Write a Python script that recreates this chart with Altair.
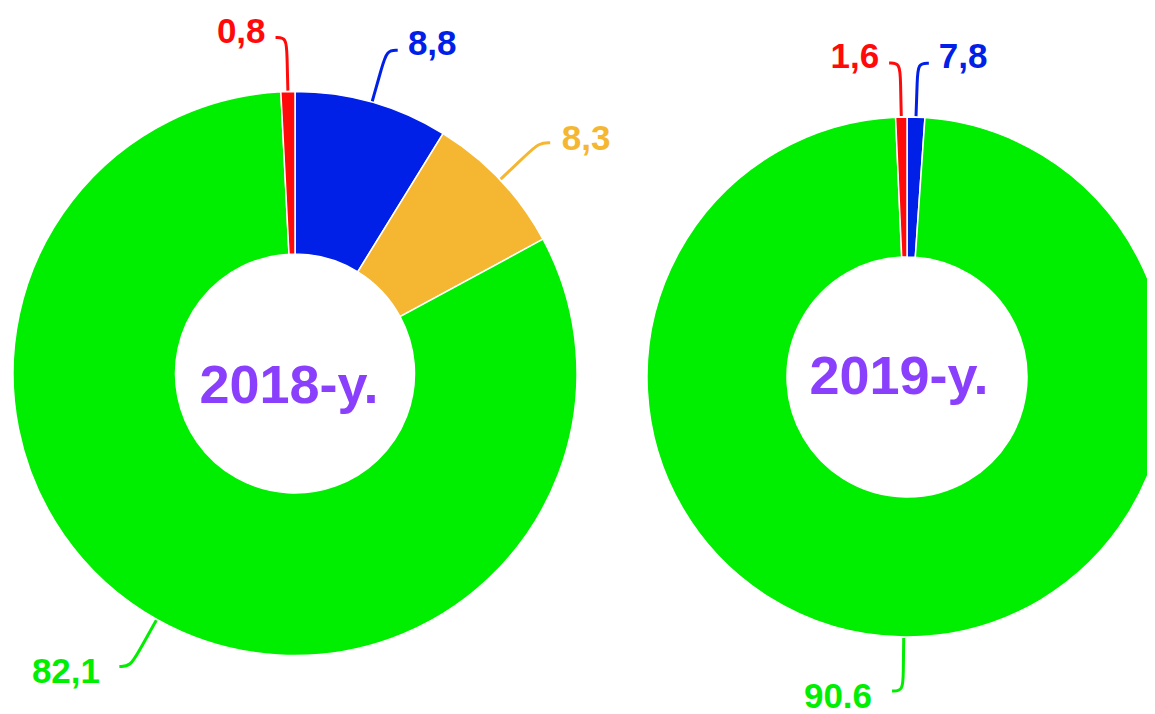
import altair as alt
import pandas as pd

# ---- data ----
years = ["2018-y.", "2019-y."]
categories = ["blue", "yellow", "green", "red"]          # clockwise from 12 o'clock
# slice sizes as drawn
share_2018 = [8.8, 8.3, 82.1, 0.8]
label_2018 = ["8,8", "8,3", "82,1", "0,8"]
cats_2019 = ["blue", "green", "red"]
share_2019 = [1.1, 98.2, 0.7]          # drawn sizes (picture)
label_2019 = ["7,8", "90.6", "1,6"]    # printed labels

slice_colors = ["#0020e8", "#f5b731", "#00ee00", "#ff0a0a"]
label_colors = ["#0a30ff", "#f9c23a", "#00ee2c", "#ff0000"]

rows = []
for i, (c, v, l) in enumerate(zip(categories, share_2018, label_2018)):
    rows.append({"year": years[0], "cat": c, "order": i, "value": v, "label": l})
for i, (c, v, l) in enumerate(zip(cats_2019, share_2019, label_2019)):
    rows.append({"year": years[1], "cat": c, "order": i, "value": v, "label": l})
df = pd.DataFrame(rows)
lead = pd.concat([df.assign(k=k) for k in range(4)], ignore_index=True)

W, H = 1139, 706
# layout (pixels within the chart)
C18 = dict(cx=287, cy=365.5, ro=282, ri=119.5)
C19 = dict(cx=899, cy=369, ro=260, ri=120)


def geo(ch, groupby):
    return (
        ch.transform_window(cum="sum(value)", groupby=groupby,
                            sort=[alt.SortField("order")], frame=[None, 0])
        .transform_joinaggregate(total="sum(value)", groupby=groupby)
        .transform_calculate(mid="2*PI*(datum.cum - datum.value/2)/datum.total")
        .transform_calculate(
            cx=f"datum.year=='{years[0]}' ? {C18['cx']} : {C19['cx']}",
            cy=f"datum.year=='{years[0]}' ? {C18['cy']} : {C19['cy']}",
            ro=f"datum.year=='{years[0]}' ? {C18['ro']} : {C19['ro']}",
            dir="sin(datum.mid) >= 0 ? 1 : -1",
        )
    )


xs = alt.Scale(domain=[0, W], range=[0, W], nice=False, zero=False)
ys = alt.Scale(domain=[0, H], range=[0, H], nice=False, zero=False)

layers = []
for yr, C, cats in [(years[0], C18, categories), (years[1], C19, cats_2019)]:
    arc = alt.Chart(df).transform_filter(alt.datum.year == yr).mark_arc(
        radius=C["ro"], radius2=C["ri"], stroke="white", strokeWidth=1.5
    ).encode(
        theta=alt.Theta("value:Q", stack=True),
        order=alt.Order("order:Q"),
        color=alt.Color("cat:N", scale=alt.Scale(domain=categories, range=slice_colors), legend=None),
        x=alt.value(C["cx"]),
        y=alt.value(C["cy"]),
    )
    layers.append(arc)

titles = pd.DataFrame({"year": years, "tx": [C18["cx"] - 6, C19["cx"] - 8],
                       "ty": [C18["cy"] + 29, C19["cy"] + 17]})
title_layer = alt.Chart(titles).mark_text(
    font="Liberation Sans", fontWeight="bold", fontSize=54, color="#8a3ffc",
    align="center", baseline="alphabetic"
).encode(
    x=alt.X("tx:Q", scale=xs, axis=None),
    y=alt.Y("ty:Q", scale=ys, axis=None),
    text="year:N",
)

lines = geo(alt.Chart(lead), ["year", "k"]).transform_calculate(
    rr="datum.ro + (datum.k==0 ? 1 : datum.k==1 ? 36 : 54)"
).transform_calculate(
    px="datum.cx + datum.rr*sin(datum.mid) + (datum.k==3 ? datum.dir*11 : 0)",
    py="datum.cy - datum.rr*cos(datum.mid)",
).mark_line(interpolate="basis", strokeWidth=3).encode(
    x=alt.X("px:Q", scale=xs, axis=None),
    y=alt.Y("py:Q", scale=ys, axis=None),
    color=alt.Color("cat:N", scale=alt.Scale(domain=categories, range=label_colors), legend=None),
    detail="year:N",
    order="k:Q",
)

lab_base = geo(alt.Chart(df), ["year"]).transform_calculate(
    lx="datum.cx + (datum.ro+54)*sin(datum.mid) + datum.dir*(11 + 15 - 5*cos(datum.mid))",
    ly="datum.cy - (datum.ro+54)*cos(datum.mid) - 6*cos(datum.mid)",
)
lab_enc = dict(
    x=alt.X("lx:Q", scale=xs, axis=None),
    y=alt.Y("ly:Q", scale=ys, axis=None),
    text="label:N",
    color=alt.Color("cat:N", scale=alt.Scale(domain=categories, range=label_colors), legend=None),
)
lab_left = lab_base.transform_filter("datum.dir < 0").mark_text(
    font="Liberation Sans", fontWeight="bold", fontSize=35, align="right", baseline="middle"
).encode(**lab_enc)
lab_right = lab_base.transform_filter("datum.dir >= 0").mark_text(
    font="Liberation Sans", fontWeight="bold", fontSize=35, align="left", baseline="middle"
).encode(**lab_enc)

chart = alt.layer(*layers, lines, lab_left, lab_right, title_layer).resolve_scale(
    theta="independent"
).properties(
    width=W, height=H, padding=0, autosize=alt.AutoSizeParams(type="none")
).configure_view(stroke=None)

chart.save("out.html", embed_options={"renderer": "svg", "actions": False})
